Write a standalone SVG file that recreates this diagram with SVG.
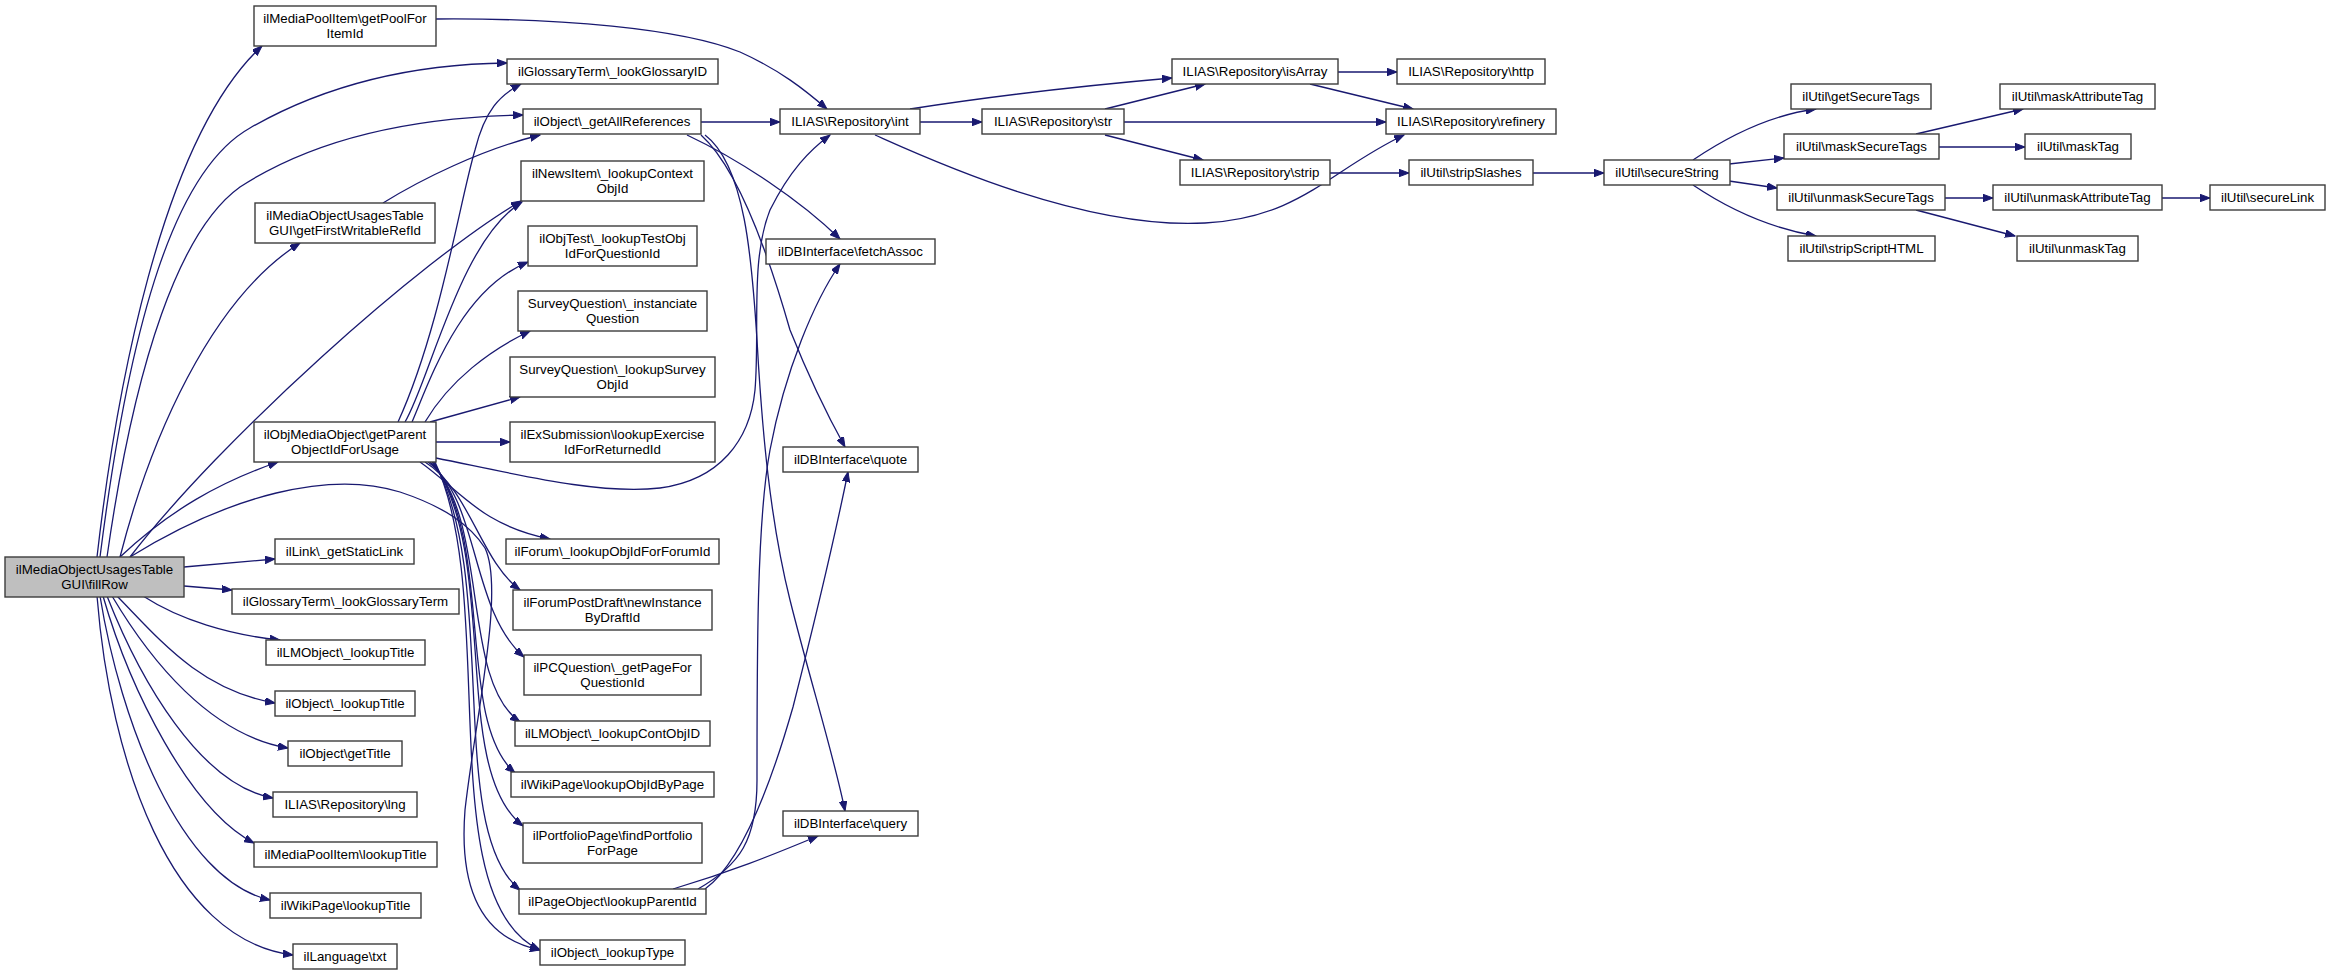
<svg xmlns="http://www.w3.org/2000/svg" width="2331" height="975" viewBox="0 0 2331 975">
<style>
.n rect{fill:#ffffff;stroke:#3c3c3c;stroke-width:1.4}
.n.root rect{fill:#bfbfbf}
.n text{font-family:"Liberation Sans",Arial,sans-serif;font-size:13.3px;fill:#000;text-anchor:middle}
#edges path{fill:none;stroke:#191970;stroke-width:1.3;marker-end:url(#ah)}
</style>
<defs>
<marker id="ah" markerUnits="userSpaceOnUse" markerWidth="11" markerHeight="8" refX="10" refY="3.75" orient="auto">
<path d="M0,0 L10,3.75 L0,7.5 z" fill="#191970" stroke="#191970" stroke-width="1"/>
</marker>
</defs>
<rect width="2331" height="975" fill="#ffffff"/>
<g id="edges">
<path d="M97,557 C115,400 160,140 262,46"/>
<path d="M100,557 C130,320 175,170 250,128 C330,82 420,64 507,63"/>
<path d="M107,557 C135,360 180,230 240,187 C320,135 420,117 523,115"/>
<path d="M120,557 C150,440 210,300 300,243"/>
<path d="M130,557 C220,440 420,260 521,201"/>
<path d="M120,557 C170,510 220,482 278,462"/>
<path d="M130,557 C230,495 330,470 400,492 C445,507 470,525 485,548 C505,590 475,720 465,810 C458,900 490,940 540,950"/>
<path d="M184,567 L275,559"/>
<path d="M184,586 L232,590"/>
<path d="M143,596 C180,620 230,635 280,640"/>
<path d="M117,596 C160,640 200,690 275,703"/>
<path d="M112,596 C150,660 210,735 288,748"/>
<path d="M107,596 C140,680 200,785 273,798"/>
<path d="M103,596 C130,690 190,810 254,843"/>
<path d="M100,596 C120,720 180,880 270,900"/>
<path d="M97,596 C110,760 170,940 293,955"/>
<path d="M436,19 C560,18 680,28 740,52 C780,70 805,90 827,109"/>
<path d="M383,203 C420,180 480,150 540,135"/>
<path d="M398,422 C440,330 460,200 475,150 C485,110 500,95 521,84"/>
<path d="M405,422 C430,380 460,240 522,202"/>
<path d="M412,422 C430,380 460,290 528,262"/>
<path d="M425,422 C450,380 490,350 530,331"/>
<path d="M430,422 L520,397"/>
<path d="M436,442 L510,442"/>
<path d="M436,458 C520,475 600,495 660,488 C720,480 750,440 755,390 C760,330 750,260 770,210 C790,170 810,150 830,135"/>
<path d="M420,462 C460,490 480,525 550,539"/>
<path d="M425,462 C470,490 480,560 520,590"/>
<path d="M428,462 C480,500 470,610 524,657"/>
<path d="M430,462 C490,520 460,680 520,722"/>
<path d="M432,462 C495,540 455,720 515,773"/>
<path d="M433,462 C500,560 450,770 523,826"/>
<path d="M434,462 C500,580 445,830 520,890"/>
<path d="M435,462 C500,600 430,900 540,950"/>
<path d="M701,122 L780,122"/>
<path d="M687,135 C740,160 800,200 840,239"/>
<path d="M701,135 C740,170 770,260 790,330 C810,380 830,420 845,447"/>
<path d="M705,135 C745,165 752,260 757,340 C762,430 770,520 790,600 C810,680 835,760 845,811"/>
<path d="M698,889 C740,865 757,840 757,780 C757,650 757,520 770,450 C785,370 815,300 840,264"/>
<path d="M705,889 C745,860 775,770 793,707 C810,640 830,560 848,472"/>
<path d="M673,889 C730,872 770,856 818,836"/>
<path d="M920,122 L982,122"/>
<path d="M910,109 C980,98 1080,86 1172,78"/>
<path d="M875,135 C920,155 1080,230 1205,223 C1300,218 1330,170 1404,135"/>
<path d="M1105,109 L1205,84"/>
<path d="M1124,122 L1386,122"/>
<path d="M1105,135 L1203,160"/>
<path d="M1338,72 L1397,72"/>
<path d="M1310,84 L1413,109"/>
<path d="M1330,173 L1409,173"/>
<path d="M1533,173 L1604,173"/>
<path d="M1693,160 C1730,135 1770,115 1816,109"/>
<path d="M1729,164 L1784,158"/>
<path d="M1729,181 L1777,188"/>
<path d="M1693,185 C1730,210 1770,228 1816,236"/>
<path d="M1916,134 L2023,109"/>
<path d="M1939,147 L2025,147"/>
<path d="M1945,198 L1993,198"/>
<path d="M1916,210 L2015,236"/>
<path d="M2162,198 L2210,198"/>
</g>
<g id="n_fillRow" class="n root"><rect x="5" y="557" width="179" height="40"/><text x="94.5" y="573.5">ilMediaObjectUsagesTable</text><text x="94.5" y="588.5">GUI\fillRow</text></g>
<g id="n_getPool" class="n"><rect x="254" y="6" width="182" height="40"/><text x="345" y="22.5">ilMediaPoolItem\getPoolFor</text><text x="345" y="37.5">ItemId</text></g>
<g id="n_getFirstWritable" class="n"><rect x="255" y="203" width="180" height="40"/><text x="345" y="219.5">ilMediaObjectUsagesTable</text><text x="345" y="234.5">GUI\getFirstWritableRefId</text></g>
<g id="n_getParent" class="n"><rect x="254" y="422" width="182" height="40"/><text x="345" y="438.5">ilObjMediaObject\getParent</text><text x="345" y="453.5">ObjectIdForUsage</text></g>
<g id="n_getStaticLink" class="n"><rect x="275" y="539" width="139" height="25"/><text x="344.5" y="556">ilLink\_getStaticLink</text></g>
<g id="n_lookGlossaryTerm" class="n"><rect x="232" y="589" width="227" height="25"/><text x="345.5" y="606">ilGlossaryTerm\_lookGlossaryTerm</text></g>
<g id="n_lmLookupTitle" class="n"><rect x="266" y="640" width="159" height="25"/><text x="345.5" y="657">ilLMObject\_lookupTitle</text></g>
<g id="n_objLookupTitle" class="n"><rect x="275" y="691" width="140" height="25"/><text x="345" y="708">ilObject\_lookupTitle</text></g>
<g id="n_getTitle" class="n"><rect x="288" y="741" width="114" height="25"/><text x="345" y="758">ilObject\getTitle</text></g>
<g id="n_lng" class="n"><rect x="273" y="792" width="144" height="25"/><text x="345" y="809">ILIAS\Repository\lng</text></g>
<g id="n_mpLookupTitle" class="n"><rect x="254" y="842" width="183" height="25"/><text x="345.5" y="859">ilMediaPoolItem\lookupTitle</text></g>
<g id="n_wikiLookupTitle" class="n"><rect x="270" y="893" width="151" height="25"/><text x="345.5" y="910">ilWikiPage\lookupTitle</text></g>
<g id="n_txt" class="n"><rect x="293" y="944" width="104" height="25"/><text x="345" y="961">ilLanguage\txt</text></g>
<g id="n_lookGlossaryID" class="n"><rect x="507" y="59" width="211" height="25"/><text x="612.5" y="76">ilGlossaryTerm\_lookGlossaryID</text></g>
<g id="n_getAllRefs" class="n"><rect x="523" y="109" width="178" height="25"/><text x="612" y="126">ilObject\_getAllReferences</text></g>
<g id="n_newsItem" class="n"><rect x="521" y="161" width="183" height="40"/><text x="612.5" y="177.5">ilNewsItem\_lookupContext</text><text x="612.5" y="192.5">ObjId</text></g>
<g id="n_objTest" class="n"><rect x="528" y="226" width="169" height="40"/><text x="612.5" y="242.5">ilObjTest\_lookupTestObj</text><text x="612.5" y="257.5">IdForQuestionId</text></g>
<g id="n_instanciate" class="n"><rect x="518" y="291" width="189" height="40"/><text x="612.5" y="307.5">SurveyQuestion\_instanciate</text><text x="612.5" y="322.5">Question</text></g>
<g id="n_surveyObjId" class="n"><rect x="510" y="357" width="205" height="40"/><text x="612.5" y="373.5">SurveyQuestion\_lookupSurvey</text><text x="612.5" y="388.5">ObjId</text></g>
<g id="n_exSubmission" class="n"><rect x="510" y="422" width="205" height="40"/><text x="612.5" y="438.5">ilExSubmission\lookupExercise</text><text x="612.5" y="453.5">IdForReturnedId</text></g>
<g id="n_forum" class="n"><rect x="506" y="539" width="213" height="25"/><text x="612.5" y="556">ilForum\_lookupObjIdForForumId</text></g>
<g id="n_forumPostDraft" class="n"><rect x="513" y="590" width="199" height="40"/><text x="612.5" y="606.5">ilForumPostDraft\newInstance</text><text x="612.5" y="621.5">ByDraftId</text></g>
<g id="n_pcQuestion" class="n"><rect x="524" y="655" width="177" height="40"/><text x="612.5" y="671.5">ilPCQuestion\_getPageFor</text><text x="612.5" y="686.5">QuestionId</text></g>
<g id="n_contObjID" class="n"><rect x="515" y="721" width="195" height="25"/><text x="612.5" y="738">ilLMObject\_lookupContObjID</text></g>
<g id="n_objIdByPage" class="n"><rect x="511" y="772" width="203" height="25"/><text x="612.5" y="789">ilWikiPage\lookupObjIdByPage</text></g>
<g id="n_portfolio" class="n"><rect x="523" y="823" width="179" height="40"/><text x="612.5" y="839.5">ilPortfolioPage\findPortfolio</text><text x="612.5" y="854.5">ForPage</text></g>
<g id="n_lookupParentId" class="n"><rect x="519" y="889" width="187" height="25"/><text x="612.5" y="906">ilPageObject\lookupParentId</text></g>
<g id="n_lookupType" class="n"><rect x="540" y="940" width="145" height="25"/><text x="612.5" y="957">ilObject\_lookupType</text></g>
<g id="n_int" class="n"><rect x="780" y="109" width="140" height="25"/><text x="850" y="126">ILIAS\Repository\int</text></g>
<g id="n_fetchAssoc" class="n"><rect x="766" y="239" width="169" height="25"/><text x="850.5" y="256">ilDBInterface\fetchAssoc</text></g>
<g id="n_quote" class="n"><rect x="783" y="447" width="135" height="25"/><text x="850.5" y="464">ilDBInterface\quote</text></g>
<g id="n_query" class="n"><rect x="783" y="811" width="135" height="25"/><text x="850.5" y="828">ilDBInterface\query</text></g>
<g id="n_str" class="n"><rect x="982" y="109" width="142" height="25"/><text x="1053" y="126">ILIAS\Repository\str</text></g>
<g id="n_isArray" class="n"><rect x="1172" y="59" width="166" height="25"/><text x="1255" y="76">ILIAS\Repository\isArray</text></g>
<g id="n_strip" class="n"><rect x="1180" y="160" width="150" height="25"/><text x="1255" y="177">ILIAS\Repository\strip</text></g>
<g id="n_http" class="n"><rect x="1397" y="59" width="148" height="25"/><text x="1471" y="76">ILIAS\Repository\http</text></g>
<g id="n_refinery" class="n"><rect x="1386" y="109" width="170" height="25"/><text x="1471" y="126">ILIAS\Repository\refinery</text></g>
<g id="n_stripSlashes" class="n"><rect x="1409" y="160" width="124" height="25"/><text x="1471" y="177">ilUtil\stripSlashes</text></g>
<g id="n_secureString" class="n"><rect x="1604" y="160" width="126" height="25"/><text x="1667" y="177">ilUtil\secureString</text></g>
<g id="n_getSecureTags" class="n"><rect x="1791" y="84" width="140" height="25"/><text x="1861" y="101">ilUtil\getSecureTags</text></g>
<g id="n_maskSecureTags" class="n"><rect x="1784" y="134" width="155" height="25"/><text x="1861.5" y="151">ilUtil\maskSecureTags</text></g>
<g id="n_unmaskSecureTags" class="n"><rect x="1777" y="185" width="168" height="25"/><text x="1861" y="202">ilUtil\unmaskSecureTags</text></g>
<g id="n_stripScriptHTML" class="n"><rect x="1788" y="236" width="147" height="25"/><text x="1861.5" y="253">ilUtil\stripScriptHTML</text></g>
<g id="n_maskAttributeTag" class="n"><rect x="2000" y="84" width="155" height="25"/><text x="2077.5" y="101">ilUtil\maskAttributeTag</text></g>
<g id="n_maskTag" class="n"><rect x="2025" y="134" width="106" height="25"/><text x="2078" y="151">ilUtil\maskTag</text></g>
<g id="n_unmaskAttributeTag" class="n"><rect x="1993" y="185" width="169" height="25"/><text x="2077.5" y="202">ilUtil\unmaskAttributeTag</text></g>
<g id="n_unmaskTag" class="n"><rect x="2017" y="236" width="121" height="25"/><text x="2077.5" y="253">ilUtil\unmaskTag</text></g>
<g id="n_secureLink" class="n"><rect x="2210" y="185" width="115" height="25"/><text x="2267.5" y="202">ilUtil\secureLink</text></g>
</svg>
